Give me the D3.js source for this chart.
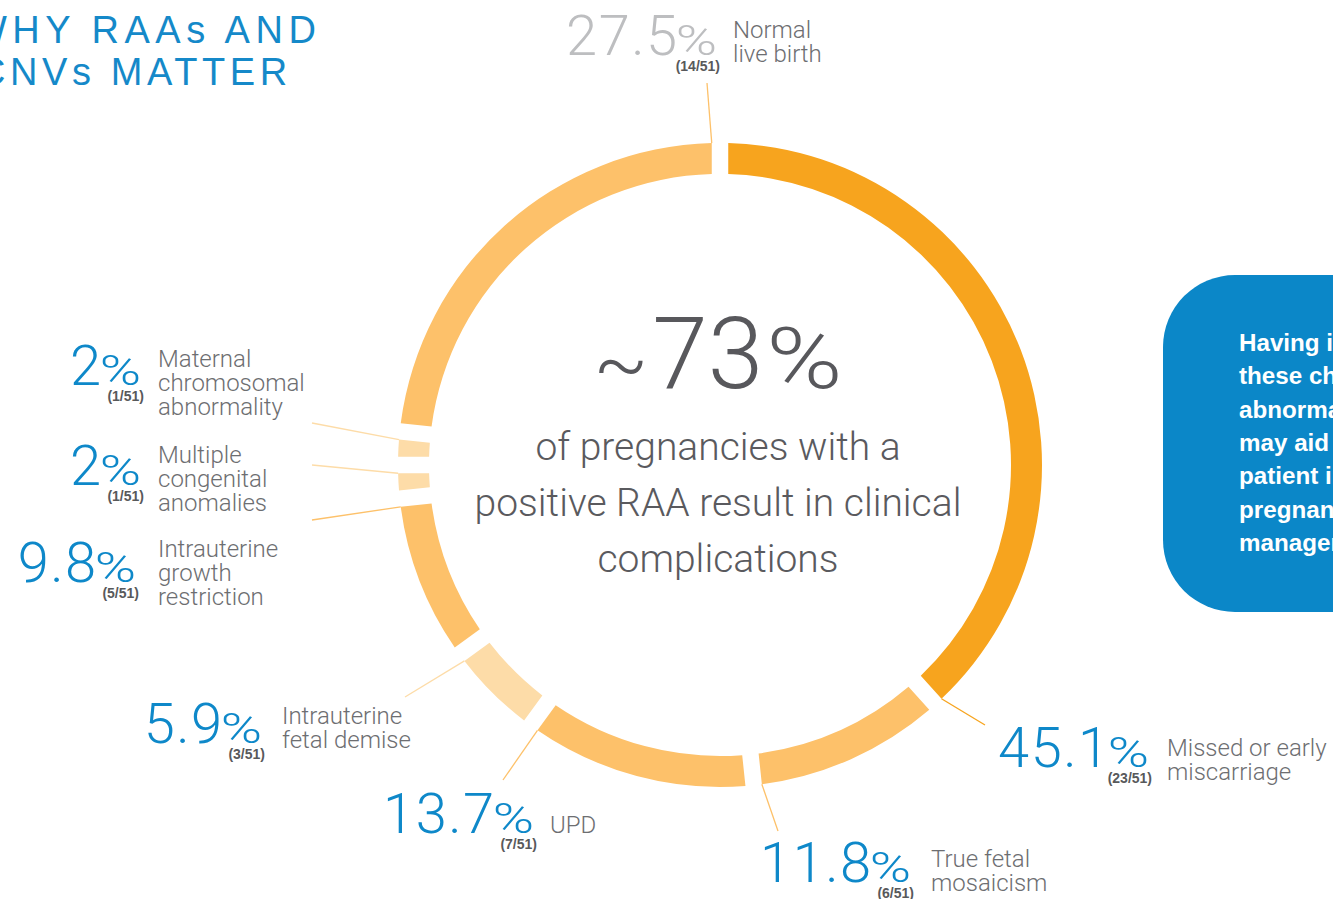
<!DOCTYPE html>
<html>
<head>
<meta charset="utf-8">
<script src="https://cdn.jsdelivr.net/npm/d3@7"></script>
<style>
  html, body { margin: 0; padding: 0; background: #ffffff; overflow: hidden; }
  svg { display: block; }
</style>
</head>
<body>
<svg id="chart" width="1333" height="899"></svg>
<script>
// ---------------- DATA ----------------
const categories = [
  "Missed or early miscarriage",
  "True fetal mosaicism",
  "UPD",
  "Intrauterine fetal demise",
  "Intrauterine growth restriction",
  "Multiple congenital anomalies",
  "Maternal chromosomal abnormality",
  "Normal live birth"
];
const labelLines = [
  ["Missed or early", "miscarriage"],
  ["True fetal", "mosaicism"],
  ["UPD"],
  ["Intrauterine", "fetal demise"],
  ["Intrauterine", "growth", "restriction"],
  ["Multiple", "congenital", "anomalies"],
  ["Maternal", "chromosomal", "abnormality"],
  ["Normal", "live birth"]
];
const counts = [23, 6, 7, 3, 5, 1, 1, 14];
const totalPregnancies = 51;
const headlineTilde = "~";
const headlineValue = "73";
const centerLines = ["of pregnancies with a", "positive RAA result in clinical", "complications"];
const titleLines = ["WHY RAAs AND", "CNVs MATTER"];
const boxLines = ["Having information on", "these chromosomal", "abnormalities", "may aid in guiding", "patient in", "pregnancy", "management."];

// ---------------- STYLE / LAYOUT ----------------
const cx = 720, cy = 465;
const rIn = 291, rOut = 322;
const padA = 0.038;

const colorByCategory = d3.scaleOrdinal()
  .domain(categories)
  .range(["#F7A41E", "#FDC16A", "#FDC16A", "#FDDCA8", "#FDC16A", "#FDDCA8", "#FDDCA8", "#FDC16A"]);
const numColor = d3.scaleOrdinal().domain(categories)
  .range(["#0E88C9","#0E88C9","#0E88C9","#0E88C9","#0E88C9","#0E88C9","#0E88C9","#BDBEC0"]);

// label placement: [numRightX, numBaseline, labelX, firstLabelBaseline, leaderX, leaderY]
const layout = {
  "Missed or early miscarriage":      [1149, 767, 1167, 756, 985, 725],
  "True fetal mosaicism":             [911, 882, 931, 867, 778, 831],
  "UPD":                              [534, 833, 550, 833, 503, 780],
  "Intrauterine fetal demise":        [262, 743, 282, 724, 405, 697],
  "Intrauterine growth restriction":  [136, 582, 158, 557, 312, 520],
  "Multiple congenital anomalies":    [141, 485, 158, 463, 312, 465],
  "Maternal chromosomal abnormality": [141, 385, 158, 367, 312, 423],
  "Normal live birth":                [717, 55, 733, 38, 707, 83]
};
const titleLayout = [[-29, 43, 5.5], [-22, 85, 4.6]];

const lightFont = "'Roboto', 'Liberation Sans', Arial, sans-serif";
const regFont = "'Liberation Sans', Arial, Helvetica, sans-serif";

// ---------------- DRAW ----------------
const svg = d3.select("#chart");
const data = categories.map((c, i) => ({ cat: c, count: counts[i], lines: labelLines[i] }));

const pie = d3.pie().sort(null).value(d => d.count).startAngle(0).endAngle(2 * Math.PI);
const arcs = pie(data);
const arc = d3.arc().innerRadius(rIn).outerRadius(rOut).padAngle(padA);
const padRadius = Math.sqrt(rIn * rIn + rOut * rOut);
const halfGap = padRadius * padA / 2;

const pct = d3.format(".1~f");

// leader lines (behind the ring)
const gLead = svg.append("g");
arcs.forEach(a => {
  const L = layout[a.data.cat];
  const r = rOut;
  const ang = a.endAngle - Math.asin(halfGap / r);
  const x1 = cx + r * Math.sin(ang), y1 = cy - r * Math.cos(ang);
  gLead.append("line")
    .attr("x1", x1).attr("y1", y1)
    .attr("x2", L[4]).attr("y2", L[5])
    .attr("stroke", colorByCategory(a.data.cat))
    .attr("stroke-width", 1.3);
});

// ring
svg.append("g").attr("transform", `translate(${cx},${cy})`)
  .selectAll("path").data(arcs).join("path")
  .attr("d", arc)
  .attr("fill", d => colorByCategory(d.data.cat));

// center headline: ~73%
const gc = svg.append("g");
const centerX = 718, headBase = 388, bigPctScale = 1.2;
const tTilde = gc.append("text").attr("y", headBase + 3)
  .attr("font-family", lightFont).attr("font-weight", 300)
  .attr("font-size", 80).attr("fill", "#58585C").text(headlineTilde);
const tVal = gc.append("text").attr("y", headBase)
  .attr("font-family", lightFont).attr("font-weight", 300)
  .attr("font-size", 100).attr("fill", "#58585C").text(headlineValue);
const tPct = gc.append("text")
  .attr("font-family", lightFont).attr("font-weight", 300)
  .attr("font-size", 86).attr("fill", "#58585C").text("%");
const wT = tTilde.node().getComputedTextLength();
const wV = tVal.node().getComputedTextLength();
const wP = tPct.node().getComputedTextLength() * bigPctScale;
const gapV = 4, gapP = 3;
let x0 = centerX - (wT + gapV + wV + gapP + wP) / 2;
tTilde.attr("x", x0);
tVal.attr("x", x0 + wT + gapV);
tPct.attr("transform", `translate(${x0 + wT + gapV + wV + gapP},${headBase}) scale(${bigPctScale},1)`);

gc.selectAll("text.sub").data(centerLines).join("text")
  .attr("class", "sub")
  .attr("x", centerX).attr("y", (d, i) => 460 + i * 56)
  .attr("text-anchor", "middle")
  .attr("font-family", lightFont).attr("font-weight", 300)
  .attr("font-size", 39).attr("fill", "#5A5A5E")
  .text(d => d);

// segment labels
const gl = svg.append("g");
const pctScale = 1.3;
data.forEach(d => {
  const L = layout[d.cat];
  const p = gl.append("text")
    .attr("transform", `translate(${L[0]},${L[1]}) scale(${pctScale},1)`)
    .attr("text-anchor", "end")
    .attr("font-family", lightFont).attr("font-weight", 300)
    .attr("font-size", 43).attr("fill", numColor(d.cat))
    .text("%");
  const pw = p.node().getComputedTextLength() * pctScale;
  gl.append("text").attr("x", L[0] - pw + 3).attr("y", L[1])
    .attr("text-anchor", "end")
    .attr("font-family", lightFont).attr("font-weight", 300)
    .attr("font-size", 56).attr("letter-spacing", 1.5).attr("fill", numColor(d.cat))
    .text(pct(d.count / totalPregnancies * 100));
  gl.append("text").attr("x", L[0] + 3).attr("y", L[1] + 16)
    .attr("text-anchor", "end")
    .attr("font-family", regFont).attr("font-weight", 700)
    .attr("font-size", 14).attr("fill", "#58595B")
    .text(`(${d.count}/${totalPregnancies})`);
  gl.append("g").selectAll("text").data(d.lines).join("text")
    .attr("x", L[2]).attr("y", (s, i) => L[3] + i * 24)
    .attr("font-family", lightFont).attr("font-weight", 300)
    .attr("font-size", 24).attr("fill", "#6D6E71")
    .text(s => s);
});

// title
svg.append("g").selectAll("text").data(titleLines).join("text")
  .attr("x", (d, i) => titleLayout[i][0]).attr("y", (d, i) => titleLayout[i][1])
  .attr("letter-spacing", (d, i) => titleLayout[i][2])
  .attr("font-family", regFont).attr("font-size", 38)
  .attr("fill", "#1589C9")
  .text(d => d);

// side box
svg.append("rect").attr("x", 1163).attr("y", 275).attr("width", 300).attr("height", 337)
  .attr("rx", 72).attr("ry", 72).attr("fill", "#0B87C8");
svg.append("g").selectAll("text").data(boxLines).join("text")
  .attr("x", 1239).attr("y", (d, i) => 351 + i * 33.3)
  .attr("font-family", regFont).attr("font-weight", 700)
  .attr("font-size", 24.2).attr("fill", "#ffffff")
  .text(d => d);
</script>
</body>
</html>
